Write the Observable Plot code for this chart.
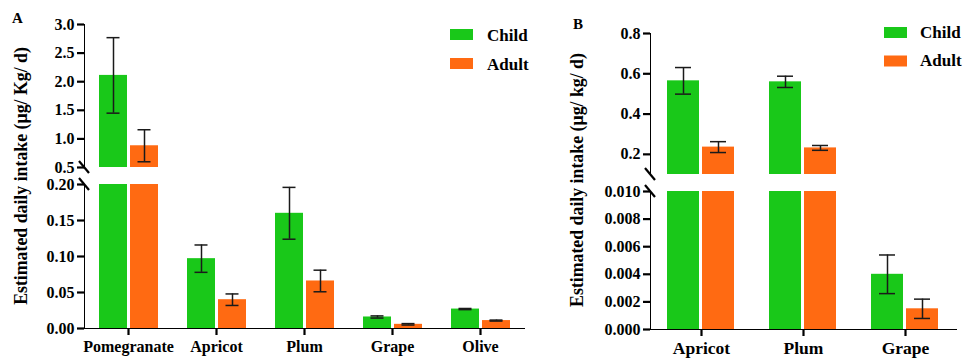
<!DOCTYPE html>
<html>
<head>
<meta charset="utf-8">
<script src="https://cdn.jsdelivr.net/npm/d3@7"></script>
<script src="https://cdn.jsdelivr.net/npm/@observablehq/plot@0.6"></script>
<style>
  html, body { margin: 0; padding: 0; background: #fff; }
  #chart { position: relative; width: 964px; height: 360px; overflow: hidden; background: #fff;
           font-family: "Liberation Serif", "DejaVu Serif", serif; font-weight: bold; }
  #chart svg { position: absolute; left: 0; top: 0; }
  #chart svg text { font-family: "Liberation Serif", "DejaVu Serif", serif !important; font-weight: bold; }
  #chart svg g[aria-label*="axis"] line,
  #chart svg g[aria-label*="axis"] path { stroke: #000; stroke-width: 2.2px; }
  #chart svg.panelA g[aria-label^="y-axis"] text { font-size: 16px; }
  #chart svg.panelA g[aria-label^="x-axis"] text { font-size: 16px; }
  #chart svg.panelB g[aria-label^="y-axis"] text { font-size: 16px; }
  #chart svg.panelB g[aria-label^="x-axis"] text { font-size: 17.5px; }
</style>
</head>
<body>
<div id="chart"></div>
<script>
// ---------- data ----------
const groups = ["Child", "Adult"];
const groupColors = ["#19c819", "#ff6a12"];

const catsA = ["Pomegranate", "Apricot", "Plum", "Grape", "Olive"];
const childA = [2.11, 0.097, 0.160, 0.016, 0.027];
const childAErr = [0.66, 0.019, 0.036, 0.0015, 0.0008];
const adultA = [0.88, 0.040, 0.066, 0.0058, 0.011];
const adultAErr = [0.28, 0.008, 0.015, 0.001, 0.0007];
const ticksA_low = [0, 0.05, 0.10, 0.15, 0.20];
const ticksA_high = [0.5, 1.0, 1.5, 2.0, 2.5, 3.0];

const catsB = ["Apricot", "Plum", "Grape"];
const childB = [0.565, 0.56, 0.0040];
const childBErr = [0.066, 0.028, 0.0014];
const adultB = [0.236, 0.232, 0.0015];
const adultBErr = [0.027, 0.012, 0.0007];
const ticksB_low = [0, 0.002, 0.004, 0.006, 0.008, 0.010];
const ticksB_high = [0.2, 0.4, 0.6, 0.8];

const titleA = "Estimated daily intake (µg/ Kg/ d)";
const titleB = "Estimated daily intake (µg/ kg/ d)";

// ---------- helpers ----------
function makeRows(cats, child, childErr, adult, adultErr) {
  const rows = [];
  cats.forEach((c, i) => {
    rows.push({cat: c, group: "Child", value: child[i], err: childErr[i]});
    rows.push({cat: c, group: "Adult", value: adult[i], err: adultErr[i]});
  });
  return rows;
}

const W = 964, H = 360;
const font = '"Liberation Serif", "DejaVu Serif", serif';

function segment(o) {
  const {cats, rows, lo, hi, ticks, fmt, mt, mb, ml, mr, geo, showX, cls, xPad} = o;
  const marks = [];
  groups.forEach((g, gi) => {
    const inset = geo.insets[gi];
    const center = inset + geo.barW / 2;
    const dx = center - geo.step / 2;
    const capL = center - geo.capW / 2;
    const capR = geo.step - capL - geo.capW;
    const bars = rows.filter(d => d.group === g && d.value > lo);
    marks.push(Plot.barY(bars, {
      x: "cat", y1: lo, y2: d => Math.min(d.value, hi),
      fill: groupColors[gi],
      insetLeft: inset, insetRight: geo.step - inset - geo.barW
    }));
    const errs = rows.filter(d => d.group === g && d.value > lo && d.value <= hi);
    marks.push(Plot.ruleX(errs, {
      x: "cat", y1: d => d.value - d.err, y2: d => d.value + d.err,
      dx, stroke: "#1a1a1a", strokeWidth: 1.5
    }));
    marks.push(Plot.tickY(errs, {
      x: "cat", y: d => d.value - d.err, stroke: "#1a1a1a", strokeWidth: 1.5,
      insetLeft: capL, insetRight: capR
    }));
    marks.push(Plot.tickY(errs, {
      x: "cat", y: d => d.value + d.err, stroke: "#1a1a1a", strokeWidth: 1.5,
      insetLeft: capL, insetRight: capR
    }));
  });
  const plot = Plot.plot({
    width: W, height: H,
    marginTop: mt, marginBottom: mb, marginLeft: ml, marginRight: mr,
    style: {background: "transparent", fontFamily: font, fontSize: "16px", fontWeight: "bold", color: "#000", overflow: "visible"},
    x: showX
      ? {type: "band", domain: cats, padding: 0, tickSize: 7, tickPadding: xPad, label: null, line: true}
      : {type: "band", domain: cats, padding: 0, axis: null},
    y: {domain: [lo, hi], ticks, tickFormat: fmt, tickSize: 7, tickPadding: 3, label: null, line: true},
    marks
  });
  plot.classList.add(cls);
  return plot;
}

function breakMark(plot, value, ml) {
  const y = plot.scale("y").apply(value);
  d3.select(plot).append("line")
    .attr("x1", ml - 5).attr("y1", y - 6)
    .attr("x2", ml + 5).attr("y2", y + 6)
    .attr("stroke", "#000").attr("stroke-width", 2.2);
}

const root = document.getElementById("chart");

// ---------- Panel A ----------
const rowsA = makeRows(catsA, childA, childAErr, adultA, adultAErr);
const geoA = {step: 88, barW: 28, insets: [15, 46], capW: 13};
const A_ml = 84, A_mr = W - (84 + 88 * 5);
const A1 = segment({cats: catsA, rows: rowsA, lo: 0.5, hi: 3.0, ticks: ticksA_high, fmt: d3.format(".1f"),
  mt: 24, mb: H - 167, ml: A_ml, mr: A_mr, geo: geoA, showX: false, cls: "panelA"});
const A2 = segment({cats: catsA, rows: rowsA, lo: 0, hi: 0.2, ticks: ticksA_low, fmt: d3.format(".2f"),
  mt: 184, mb: H - 328, ml: A_ml, mr: A_mr, geo: geoA, showX: true, cls: "panelA", xPad: 5});
root.appendChild(A1);
root.appendChild(A2);
breakMark(A1, 0.5, A_ml);
breakMark(A2, 0.2, A_ml);

// ---------- Panel B ----------
const rowsB = makeRows(catsB, childB, childBErr, adultB, adultBErr);
const geoB = {step: 102, barW: 32, insets: [17, 52], capW: 16};
const B_ml = 650, B_mr = W - (650 + 102 * 3);
const B1 = segment({cats: catsB, rows: rowsB, lo: 0.1, hi: 0.8, ticks: ticksB_high, fmt: d3.format(".1f"),
  mt: 33, mb: H - 174, ml: B_ml, mr: B_mr, geo: geoB, showX: false, cls: "panelB"});
const B2 = segment({cats: catsB, rows: rowsB, lo: 0, hi: 0.01, ticks: ticksB_low, fmt: d3.format(".3f"),
  mt: 191, mb: H - 329, ml: B_ml, mr: B_mr, geo: geoB, showX: true, cls: "panelB", xPad: 5});
root.appendChild(B1);
root.appendChild(B2);
breakMark(B1, 0.1, B_ml);
breakMark(B2, 0.01, B_ml);

// ---------- annotations: panel letters, y titles, legends ----------
const ann = d3.select(root).append("svg")
  .attr("width", W).attr("height", H)
  .style("font-family", font).style("font-weight", "bold");

ann.append("text").attr("x", 12).attr("y", 23).attr("font-size", 15).text("A");
ann.append("text").attr("x", 573).attr("y", 29).attr("font-size", 15).text("B");

ann.append("text").attr("transform", "translate(27,176) rotate(-90)")
  .attr("text-anchor", "middle").attr("font-size", 17.8).text(titleA);
ann.append("text").attr("transform", "translate(583,180) rotate(-90)")
  .attr("text-anchor", "middle").attr("font-size", 17.8).text(titleB);

function legend(x, y0, gap, tx, baseOff) {
  groups.forEach((g, i) => {
    const y = y0 + i * gap;
    ann.append("rect").attr("x", x).attr("y", y).attr("width", 23).attr("height", 11).attr("fill", groupColors[i]);
    ann.append("text").attr("x", tx).attr("y", y + baseOff).attr("font-size", 17).text(g);
  });
}
legend(450, 29, 29, 487, 11.5);
legend(884, 27, 28.5, 920, 10.5);
</script>
</body>
</html>
